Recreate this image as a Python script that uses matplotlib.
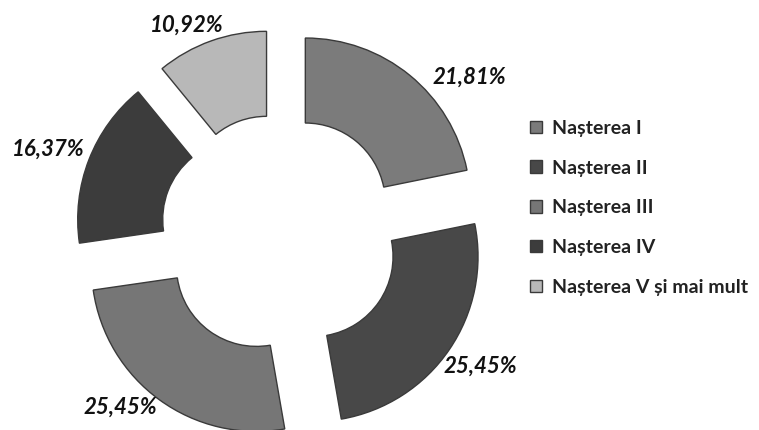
import matplotlib
matplotlib.use('Agg')
import matplotlib.pyplot as plt

# data
labels = ['Nașterea I', 'Nașterea II', 'Nașterea III', 'Nașterea IV', 'Nașterea V și mai mult']
values = [21.81, 25.45, 25.45, 16.37, 10.92]
pct_text = ['21,81%', '25,45%', '25,45%', '16,37%', '10,92%']
colors = ['#7b7b7b', '#484848', '#767676', '#3c3c3c', '#b8b8b8']

plt.rcParams['font.family'] = ['Lato', 'DejaVu Sans']

W, H = 759, 430
fig = plt.figure(figsize=(W / 100, H / 100), dpi=100)
ax = fig.add_axes([0, 0, 1, 1])

# pixel-like data coordinates, y up
R = 165
cx, cy = 280, H - 234
wedges, _ = ax.pie(values, radius=R, center=(cx, cy), startangle=90, counterclock=False,
                   colors=colors, explode=[40] * len(values),
                   wedgeprops=dict(width=85, edgecolor='#3a3a3a', linewidth=1.0))
ax.set_xlim(0, W)
ax.set_ylim(0, H)
ax.set_aspect('equal')
ax.axis('off')

# percentage labels (positions in px from top-left)
lab_pos = [(469, 77), (480, 366), (120, 407), (48, 149), (187, 25)]
for (x, y), t in zip(lab_pos, pct_text):
    ax.text(x, H - y, t, ha='center', va='center', fontsize=16,
            fontweight='bold', fontstyle='italic', color='#111111')

leg = ax.legend(wedges, labels, loc='upper left', bbox_to_anchor=(522 / W, 1 - 112 / H),
                frameon=False, prop=dict(weight='bold', size=14),
                handlelength=0.62, handleheight=0.62, handletextpad=0.51,
                labelspacing=1.17, borderaxespad=0)
for t in leg.get_texts():
    t.set_color('#222222')

fig.savefig('out.png', dpi=100)
